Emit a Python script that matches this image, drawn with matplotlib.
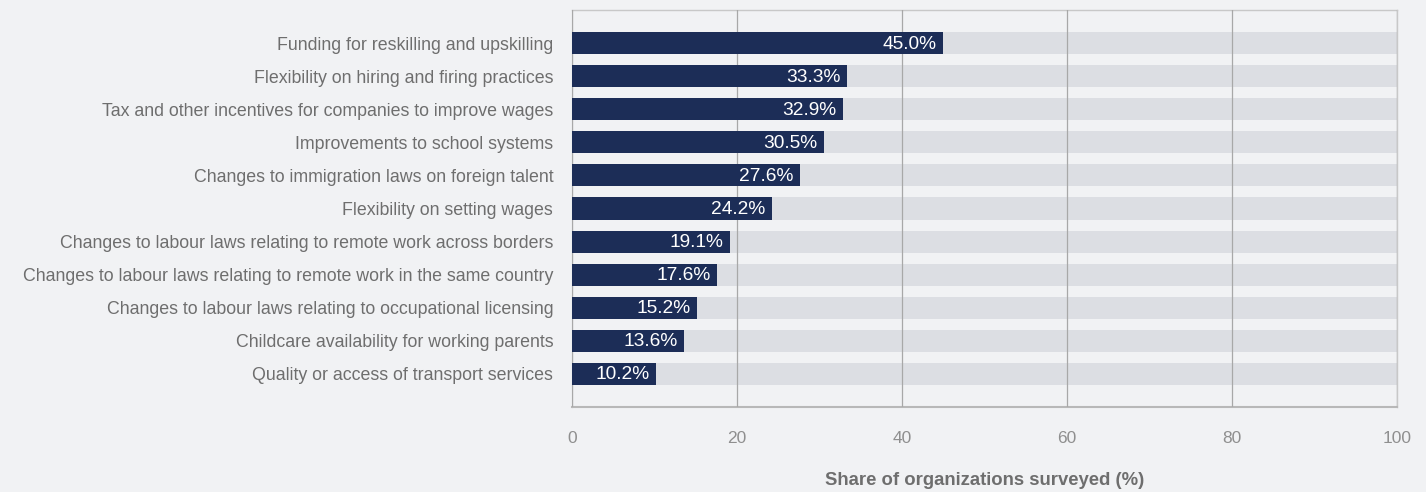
import matplotlib
matplotlib.use("Agg")
import matplotlib.pyplot as plt

categories = [
    "Funding for reskilling and upskilling",
    "Flexibility on hiring and firing practices",
    "Tax and other incentives for companies to improve wages",
    "Improvements to school systems",
    "Changes to immigration laws on foreign talent",
    "Flexibility on setting wages",
    "Changes to labour laws relating to remote work across borders",
    "Changes to labour laws relating to remote work in the same country",
    "Changes to labour laws relating to occupational licensing",
    "Childcare availability for working parents",
    "Quality or access of transport services",
]
values = [45.0, 33.3, 32.9, 30.5, 27.6, 24.2, 19.1, 17.6, 15.2, 13.6, 10.2]
xticks = [0, 20, 40, 60, 80, 100]
xlabel = "Share of organizations surveyed (%)"

plt.rcParams['font.family'] = ['Liberation Sans', 'DejaVu Sans']

BG = "#f1f2f4"
NAVY = "#1c2d57"
TRACK = "#dcdee3"

fig = plt.figure(figsize=(14.26, 4.92), dpi=100, facecolor=BG)
ax = fig.add_axes([572/1426, 1 - 407/492, (1397-572)/1426, (407-10)/492])
ax.set_facecolor(BG)

y = list(range(len(categories)))
ax.barh(y, [100]*len(values), height=0.67, color=TRACK, zorder=1)
ax.barh(y, values, height=0.67, color=NAVY, zorder=3)
for yi, v in zip(y, values):
    ax.text(v - 0.8, yi + 0.03, f"{v:.1f}%", ha="right", va="center", color="white",
            fontsize=13.8, zorder=4)

ax.set_xlim(0, 100)
ax.set_ylim(len(categories), -1)
ax.set_yticks(y)
ax.set_yticklabels(categories, fontsize=12.8, color="#6e6e6e")
ax.set_xticks(xticks)
ax.set_xticklabels([str(t) for t in xticks], fontsize=12.5, color="#8f8f8f")
ax.tick_params(axis="y", length=0, pad=13.5)
ax.tick_params(axis="x", length=0, pad=17)
ax.xaxis.grid(True, color="#a8a8a8", linewidth=0.9, zorder=2)
ax.set_axisbelow(False)
for s in ["top", "right"]:
    ax.spines[s].set_color("#c8c8c8")
    ax.spines[s].set_linewidth(1.0)
ax.spines["left"].set_color("#a8a8a8")
ax.spines["bottom"].set_color("#b8b8b8")
ax.spines["bottom"].set_linewidth(1.5)

ax.set_xlabel(xlabel, fontsize=13.3, fontweight="bold", color="#6e6e6e", labelpad=19)

fig.savefig("out.png", dpi=100, facecolor=BG)
